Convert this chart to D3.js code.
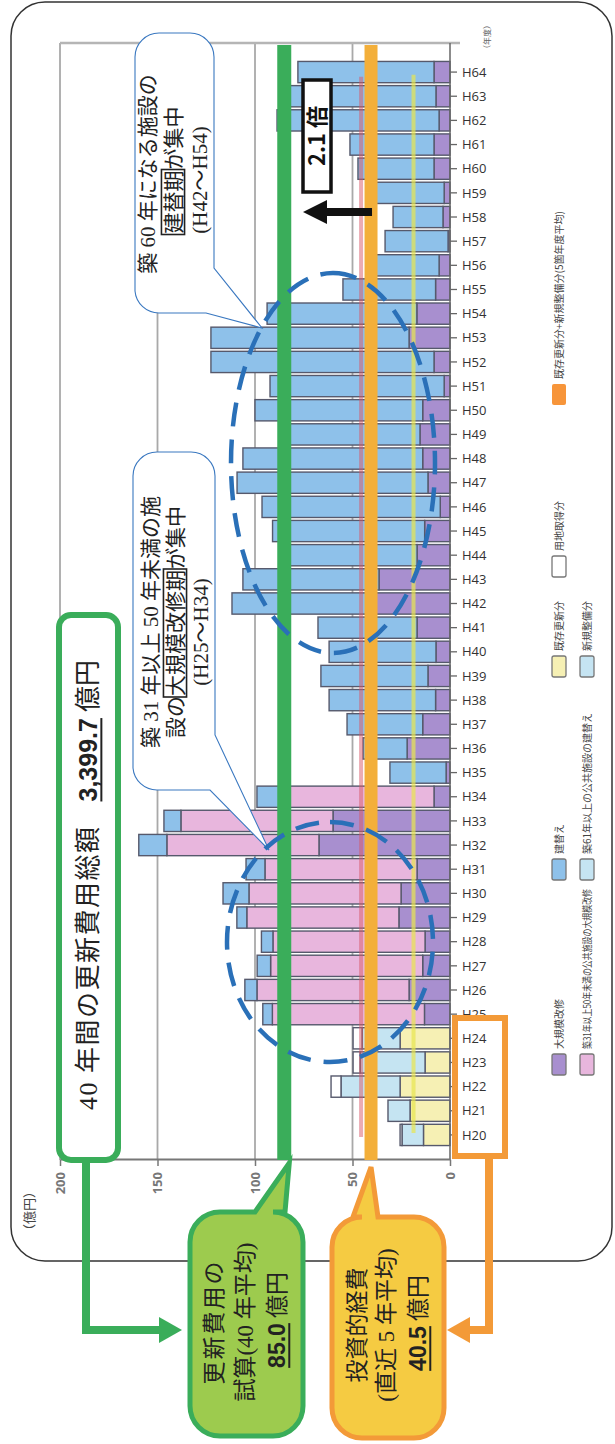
<!DOCTYPE html>
<html>
<head>
<meta charset="utf-8">
<script src="https://cdnjs.cloudflare.com/ajax/libs/d3/7.8.5/d3.min.js"></script>
<style>
  body { margin: 0; background: #fff; }
</style>
</head>
<body>
<div id="chart"></div>
<script>
// fiscal years, bottom (H20) to top (H64) on the page
const years = ["H20", "H21", "H22", "H23", "H24", "H25", "H26", "H27", "H28", "H29",
  "H30", "H31", "H32", "H33", "H34", "H35", "H36", "H37", "H38", "H39",
  "H40", "H41", "H42", "H43", "H44", "H45", "H46", "H47", "H48", "H49",
  "H50", "H51", "H52", "H53", "H54", "H55", "H56", "H57", "H58", "H59",
  "H60", "H61", "H62", "H63", "H64"];

// 既存更新分 / 新規整備分 / 用地取得分 (H20-H24 actual spending)
const kizon  = [13.6, 20.5, 25.6, 12.8, 25.6, 0, 0, 0, 0, 0, 0, 0, 0, 0, 0, 0, 0, 0, 0, 0, 0, 0, 0, 0, 0, 0, 0, 0, 0, 0, 0, 0, 0, 0, 0, 0, 0, 0, 0, 0, 0, 0, 0, 0, 0];
const shinki = [11.0, 11.3, 30.3, 33.3, 19.5, 0, 0, 0, 0, 0, 0, 0, 0, 0, 0, 0, 0, 0, 0, 0, 0, 0, 0, 0, 0, 0, 0, 0, 0, 0, 0, 0, 0, 0, 0, 0, 0, 0, 0, 0, 0, 0, 0, 0, 0];
const youchi = [1.0, 0, 5.1, 3.6, 4.6, 0, 0, 0, 0, 0, 0, 0, 0, 0, 0, 0, 0, 0, 0, 0, 0, 0, 0, 0, 0, 0, 0, 0, 0, 0, 0, 0, 0, 0, 0, 0, 0, 0, 0, 0, 0, 0, 0, 0, 0];

// 大規模改修
const daikibo = [0, 0, 0, 0, 0,
  13.1, 21.0, 14.0, 12.8, 26.2, 25.1, 16.9, 67.2, 60.0, 8.2,
  2.0, 22.0, 14.0, 7.4, 11.3, 7.2, 16.9, 41.5, 36.4, 16.9,
  13.0, 5.0, 11.3, 14.0, 15.4, 14.0, 3.0, 8.2, 21.0, 17.0,
  7.4, 5.6, 1.0, 3.6, 3.0, 8.2, 8.2, 5.6, 7.2, 8.2];

// 築31年以上50年未満の公共施設の大規模改修
const daikiboOld = [0, 0, 0, 0, 0,
  78, 78, 78, 78, 78, 78, 78, 78, 78, 78,
  0, 0, 0, 0, 0, 0, 0, 0, 0, 0,
  0, 0, 0, 0, 0, 0, 0, 0, 0, 0,
  0, 0, 0, 0, 0, 0, 0, 0, 0, 0];

// 建替え
const tatekae = [0, 0, 0, 0, 0,
  4.9, 6.2, 6.9, 5.9, 5.1, 13.3, 9.7, 14.4, 8.7, 12.8,
  28.8, 22.6, 38.8, 54.6, 54.9, 54.8, 50.8, 70.3, 69.8, 70.3,
  78.0, 91.4, 97.9, 92.2, 70.8, 86.0, 89.3, 114.4, 101.6, 76.8,
  47.5, 34.4, 32.3, 25.6, 36.5, 39.0, 43.1, 83.1, 79.0, 69.8];

const valueTicks = [0, 50, 100, 150, 200];
const renewalAvg = 85.0;   // 更新費用の試算(40年平均)
const investAvg = 40.5;    // 投資的経費(直近5年平均)
const faintRed = 45.6;
const faintYellow = 18.7;

const series = [
  { key: "kizon", label: "既存更新分", color: "#f6f0b4" },
  { key: "shinki", label: "新規整備分", color: "#c5e4f2" },
  { key: "youchi", label: "用地取得分", color: "#ffffff" },
  { key: "daikibo", label: "大規模改修", color: "#a88fcf" },
  { key: "daikiboOld", label: "築31年以上50年未満の公共施設の大規模改修", color: "#e8b6dd" },
  { key: "tatekae", label: "建替え", color: "#8ec1ea" }
];

const rows = years.map((yr, i) => ({
  year: yr, kizon: kizon[i], shinki: shinki[i], youchi: youchi[i],
  daikibo: daikibo[i], daikiboOld: daikiboOld[i], tatekae: tatekae[i]
}));

const PW = 615, PH = 1444;
const SERIF = "'Liberation Serif', 'Noto Sans CJK JP', serif";
const SANS = "'Noto Sans CJK JP', 'Noto Sans', sans-serif";
const BOLD = "'Liberation Sans', Arial, sans-serif";
const GREEN = "#3aad5a", ORANGE = "#f39a38";

const svg = d3.select("#chart").append("svg")
  .attr("width", PW).attr("height", PH);

// the whole chart is laid out landscape then turned a quarter to the left
const g = svg.append("g").attr("transform", `translate(0,${PH}) rotate(-90)`);
// portrait (page) coords -> landscape coords
const P = (px, py) => [PH - py, px];

const x = d3.scaleBand().domain(years).range([297, 1384]).paddingInner(0.12).paddingOuter(0.06);
const y = d3.scaleLinear().domain([0, 200]).range([450, 60]);
const axisX = 284, topX = 1401;

// outer rounded frame
g.append("rect").attr("x", 183).attr("y", 11).attr("width", 1259).attr("height", 601)
  .attr("rx", 34).attr("fill", "#fff").attr("stroke", "#333").attr("stroke-width", 1.5);

// grid
g.selectAll(".grid").data(valueTicks.filter(v => v > 0)).enter().append("line")
  .attr("x1", axisX).attr("x2", topX).attr("y1", d => y(d)).attr("y2", d => y(d))
  .attr("stroke", "#a9a9a9").attr("stroke-width", 1.8);
g.append("line").attr("x1", topX).attr("x2", topX).attr("y1", y(200)).attr("y2", y(0) + 10)
  .attr("stroke", "#b5b5b5").attr("stroke-width", 2.5);

// stacked bars
const stacked = d3.stack().keys(series.map(s => s.key))(rows);
const colorOf = {};
series.forEach(s => colorOf[s.key] = s.color);

stacked.forEach(layer => {
  g.append("g").selectAll("rect")
    .data(layer.filter(d => d[1] - d[0] > 0))
    .enter().append("rect")
    .attr("x", d => x(d.data.year))
    .attr("width", x.bandwidth())
    .attr("y", d => y(d[1]))
    .attr("height", d => y(d[0]) - y(d[1]))
    .attr("fill", colorOf[layer.key])
    .attr("stroke", "#56596c")
    .attr("stroke-width", 1.4);
});

// faint reference lines left in the scan
g.append("line").attr("x1", x.range()[0] + 10).attr("x2", x("H64") + 6)
  .attr("y1", y(faintRed)).attr("y2", y(faintRed))
  .attr("stroke", "#d8586a").attr("stroke-opacity", 0.5).attr("stroke-width", 4);
g.append("line").attr("x1", x.range()[0] + 14).attr("x2", x("H64") + 8)
  .attr("y1", y(faintYellow)).attr("y2", y(faintYellow))
  .attr("stroke", "#e8e64e").attr("stroke-opacity", 0.7).attr("stroke-width", 4);

// category axis
g.append("line").attr("x1", axisX).attr("x2", topX).attr("y1", y(0)).attr("y2", y(0))
  .attr("stroke", "#666").attr("stroke-width", 1.5);
const xAxis = g.append("g").attr("transform", `translate(0,${y(0)})`)
  .call(d3.axisBottom(x).tickSize(7).tickSizeOuter(0));
xAxis.select(".domain").remove();
xAxis.selectAll(".tick line").attr("stroke", "#666").attr("stroke-width", 1.3);
xAxis.selectAll(".tick text")
  .attr("transform", "rotate(90)").attr("x", 12).attr("y", 0).attr("dy", "0.36em")
  .style("text-anchor", "start").style("font-family", "'Open Sans', sans-serif")
  .style("font-size", "13px").style("fill", "#333");

// value axis
const yAxis = g.append("g").attr("transform", `translate(${axisX},0)`)
  .call(d3.axisLeft(y).tickValues(valueTicks).tickSize(6).tickSizeOuter(0).tickPadding(6));
yAxis.select(".domain").attr("stroke", "#777").attr("stroke-width", 1.8);
yAxis.selectAll(".tick line").attr("stroke", "#777").attr("stroke-width", 1.5);
yAxis.selectAll(".tick text").style("font-family", "'Open Sans', sans-serif")
  .style("font-size", "13px").style("font-weight", "bold").style("fill", "#777");

g.append("text").attr("x", P(0, 1237)[0]).attr("y", 34).text("（億円）")
  .style("font-family", SERIF).style("font-size", "13px").style("fill", "#444");
g.append("text").attr("x", P(0, 53)[0]).attr("y", 490).text("（年度）")
  .style("font-family", SANS).style("font-size", "8px").style("fill", "#666");

// average lines
g.append("line").attr("x1", axisX).attr("x2", topX - 2)
  .attr("y1", y(renewalAvg)).attr("y2", y(renewalAvg))
  .attr("stroke", GREEN).attr("stroke-width", 14);
g.append("line").attr("x1", axisX).attr("x2", topX - 2)
  .attr("y1", y(investAvg)).attr("y2", y(investAvg))
  .attr("stroke", "#f3af3a").attr("stroke-width", 13);

// legend
const legendItems = [
  { label: "大規模改修", color: "#a88fcf", lx: 369, ly: 552 },
  { label: "建替え", color: "#8ec1ea", lx: 564, ly: 552 },
  { label: "既存更新分", color: "#f6f0b4", lx: 767, ly: 552 },
  { label: "用地取得分", color: "#ffffff", lx: 867, ly: 552 },
  { label: "既存更新分+新規整備分(5箇年度平均)", color: "#f7953a", lx: 1039, ly: 552, solid: true },
  { label: "築31年以上50年未満の公共施設の大規模改修", color: "#e8b6dd", lx: 369, ly: 580, fit: 160 },
  { label: "築61年以上の公共施設の建替え", color: "#c5e4f2", lx: 564, ly: 580 },
  { label: "新規整備分", color: "#c5e4f2", lx: 767, ly: 580 }
];
const legend = g.append("g");
legendItems.forEach(it => {
  legend.append("rect").attr("x", it.lx).attr("y", it.ly).attr("width", 21).attr("height", 14)
    .attr("rx", 2).attr("fill", it.color)
    .attr("stroke", it.solid ? "none" : "#777").attr("stroke-width", 1.3);
  const t = legend.append("text").attr("x", it.lx + 26).attr("y", it.ly + 11).text(it.label)
    .style("font-family", SANS).style("font-size", "10px").style("fill", "#444");
  if (it.fit) t.attr("textLength", it.fit).attr("lengthAdjust", "spacingAndGlyphs");
});

// helper: one line of mixed text, optional boxed / underlined parts
function richLine(parent, cx, cy, parts, size, anchor) {
  const line = parent.append("g");
  const base = cy + size * 0.36;
  let pos = 0;
  const items = parts.map(p => {
    const t = line.append("text").attr("x", pos).attr("y", base).text(p.t)
      .style("font-family", p.bold ? BOLD : SERIF)
      .style("font-weight", p.bold ? "bold" : "normal")
      .style("font-size", (p.size || size) + "px")
      .style("letter-spacing", (p.ls || 0) + "px")
      .style("fill", "#222");
    const w = t.node().getComputedTextLength();
    const item = { x: pos, w: w, p: p };
    pos += w + (p.gap || 0);
    return item;
  });
  const shift = anchor === "start" ? cx : cx - pos / 2;
  line.attr("transform", `translate(${shift},0)`);
  items.forEach(it => {
    if (it.p.box) {
      line.append("rect").attr("x", it.x - 1).attr("y", cy - size * 0.55)
        .attr("width", it.w + 2).attr("height", size * 1.1)
        .attr("fill", "none").attr("stroke", "#222").attr("stroke-width", 1.6);
    }
    if (it.p.underline) {
      line.append("line").attr("x1", it.x).attr("x2", it.x + it.w)
        .attr("y1", base + 4).attr("y2", base + 4)
        .attr("stroke", "#222").attr("stroke-width", 2);
    }
  });
}

// speech bubble (landscape), tail leaving the lower edge near the left end
function bubble(x0, x1, y0, y1, r, tailRight, tip, tailLeftY) {
  const p = `M${x0 + r},${y0} H${x1 - r} A${r},${r} 0 0 1 ${x1},${y0 + r} V${y1 - r}
    A${r},${r} 0 0 1 ${x1 - r},${y1} H${tailRight} L${tip[0]},${tip[1]} L${x0 + 2},${tailLeftY}
    V${y0 + r} A${r},${r} 0 0 1 ${x0 + r},${y0} Z`;
  g.append("path").attr("d", p).attr("fill", "#fff").attr("stroke", "#3a78c0").attr("stroke-width", 1.1);
}

// upper bubble: 築60年
bubble(1129, 1411, 135, 214, 24, 1176, [1116, 262], 206);
const ub = 1270;
richLine(g, ub, 147, [{ t: "築 60 年になる施設の" }], 21);
richLine(g, ub + 4, 173, [{ t: "建替期", box: true, gap: 1 }, { t: "が集中" }], 21);
richLine(g, ub - 6, 199, [{ t: "(H42～H54)" }], 21);

// lower bubble: 築31年以上50年未満
bubble(652, 992, 133, 215, 24, 709, [594, 269], 210);
const lb = 822;
richLine(g, lb, 150, [{ t: "築 31 年以上 50 年未満の施" }], 21);
richLine(g, lb, 175, [{ t: "設の" }, { t: "大規模改修期", box: true, gap: 1 }, { t: "が集中" }], 21);
richLine(g, lb - 10, 200, [{ t: "(H25～H34)" }], 21);

// 40年間総額 box
g.append("rect").attr("x", 284).attr("y", 59).attr("width", 545).attr("height", 59)
  .attr("rx", 12).attr("fill", "#fff").attr("stroke", GREEN).attr("stroke-width", 6);
richLine(g, 334, 88, [
  { t: "40 年間の更新費用総額", ls: 1.5, gap: 24, size: 26 },
  { t: "3,399.7", bold: true, underline: true, gap: 6, size: 25 },
  { t: "億円", size: 26 }
], 26, "start");

// 2.1倍 box and arrow
g.append("rect").attr("x", 1252).attr("y", 303).attr("width", 112).attr("height", 28)
  .attr("fill", "#fff").attr("stroke", "#111").attr("stroke-width", 3.5);
g.append("text").attr("x", 1308).attr("y", 325).attr("text-anchor", "middle").text("2.1 倍")
  .style("font-family", "'Noto Sans CJK JP', sans-serif").style("font-weight", "bold")
  .style("font-size", "22px").style("fill", "#111");
const arrowX = P(0, 212)[0];
g.append("line").attr("x1", arrowX).attr("x2", arrowX).attr("y1", y(investAvg) + 1).attr("y2", 324)
  .attr("stroke", "#111").attr("stroke-width", 8);
g.append("path").attr("d", `M${arrowX},303 L${arrowX + 12},327 L${arrowX - 12},327 Z`).attr("fill", "#111");

// orange bracket around H20-H24
g.append("rect").attr("x", 288).attr("y", 455).attr("width", 138).attr("height", 50)
  .attr("fill", "none").attr("stroke", ORANGE).attr("stroke-width", 6);

// dashed ellipses
g.append("ellipse").attr("cx", P(333, 463)[0]).attr("cy", 333).attr("rx", 190).attr("ry", 102)
  .attr("fill", "none").attr("stroke", "#2a70b8").attr("stroke-width", 4.5).attr("stroke-dasharray", "24 13");
g.append("ellipse").attr("cx", P(330, 942)[0]).attr("cy", 330).attr("rx", 120).attr("ry", 103)
  .attr("fill", "none").attr("stroke", "#2a70b8").attr("stroke-width", 4.5).attr("stroke-dasharray", "24 13");

// connectors with arrows
g.append("path").attr("d", "M284,86 L114,86 L114,162").attr("fill", "none")
  .attr("stroke", GREEN).attr("stroke-width", 8);
g.append("path").attr("d", "M127,159 L114,182 L101,159 Z").attr("fill", GREEN);
g.append("path").attr("d", "M288,489 L114,489 L114,468").attr("fill", "none")
  .attr("stroke", ORANGE).attr("stroke-width", 8);
g.append("path").attr("d", "M127,470 L114,447 L101,470 Z").attr("fill", ORANGE);

// callout boxes
function callout(x0, x1, y0, y1, r, ta, tb, tip, fill, stroke) {
  const p = `M${x0 + r},${y0} H${x1 - r} A${r},${r} 0 0 1 ${x1},${y0 + r} V${ta}
    L${tip[0]},${tip[1]} L${x1},${tb} V${y1 - r} A${r},${r} 0 0 1 ${x1 - r},${y1}
    H${x0 + r} A${r},${r} 0 0 1 ${x0},${y1 - r} V${y0 + r} A${r},${r} 0 0 1 ${x0 + r},${y0} Z`;
  g.append("path").attr("d", p).attr("fill", fill).attr("stroke", stroke).attr("stroke-width", 5);
}
callout(8, 232, 190, 303, 30, 255, 285, [281, y(renewalAvg) + 5], "#9dcb4e", GREEN);
callout(6, 227, 332, 444, 30, 353, 378, [277, y(investAvg)], "#f5cb42", ORANGE);

richLine(g, 122, 214, [{ t: "更新費用の", ls: 2 }], 23);
richLine(g, 122, 245, [{ t: "試算(40 年平均)" }], 23);
richLine(g, 124, 277, [{ t: "85.0", bold: true, underline: true, gap: 5 }, { t: "億円" }], 23);

richLine(g, 119, 357, [{ t: "投資的経費" }], 23);
richLine(g, 119, 386, [{ t: "(直近 5 年平均)" }], 23);
richLine(g, 121, 418, [{ t: "40.5", bold: true, underline: true, gap: 5 }, { t: "億円" }], 23);
</script>
</body>
</html>
